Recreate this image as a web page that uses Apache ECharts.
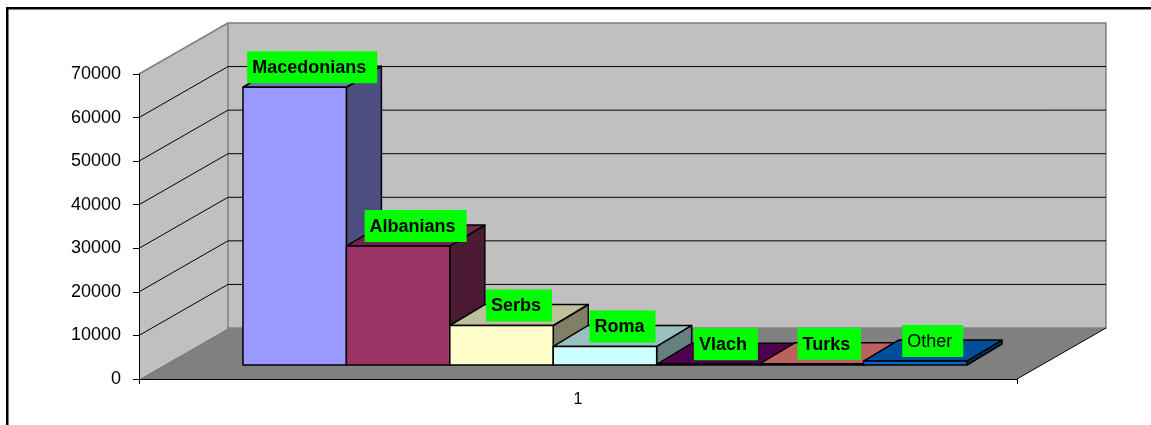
<!DOCTYPE html>
<html><head><meta charset="utf-8">
<script src="https://cdn.jsdelivr.net/npm/echarts@6/dist/echarts.min.js"></script>
<style>html,body{margin:0;padding:0;background:#fff}#c{width:1151px;height:425px}</style>
</head><body><div id="c"></div>
<script>
// ---- data ----
const categories = ['1'];
const groups = ['Macedonians', 'Albanians', 'Serbs', 'Roma', 'Vlach', 'Turks', 'Other'];
const values = [63746, 27290, 9062, 4256, 147, 292, 900];
const yTickLabels = ['0', '10000', '20000', '30000', '40000', '50000', '60000', '70000'];

// ---- styles ----
const colors = ['#9999FF', '#993366', '#FFFFCC', '#CCFFFF', '#660066', '#FF8080', '#0066CC'];
const labelWeights = ['bold', 'bold', 'bold', 'bold', 'bold', 'bold', 'normal'];
const FONT = 'Arial, "Liberation Sans", sans-serif';
const WALL_DX = 89, WALL_DY = -51;      // depth of the 3D box
const BAR_OX = 24.5, BAR_OY = -14;      // bar plane offset inside the box
const BAR_DX = 35, BAR_DY = -21;        // bar depth
const BAR_START = 0.0905, BAR_W = 0.1178; // fractions of the category band
const Y_MAX = 70000, Y_STEP = 10000;

function shade(hex, k) {
  const n = parseInt(hex.slice(1), 16);
  const r = Math.round(((n >> 16) & 255) * k), g = Math.round(((n >> 8) & 255) * k), b = Math.round((n & 255) * k);
  return 'rgb(' + r + ',' + g + ',' + b + ')';
}

function renderWalls(params, api) {
  const band = api.size([1, 0])[0];
  const c0 = api.coord([0, 0]);
  const xL = c0[0] - band / 2, xR = c0[0] + band / 2, yZ = c0[1];
  const yT = api.coord([0, Y_MAX])[1];
  const ch = [];
  ch.push({ type: 'polygon', shape: { points: [[xL, yZ], [xR, yZ], [xR + WALL_DX, yZ + WALL_DY], [xL + WALL_DX, yZ + WALL_DY]] }, style: { fill: '#808080' } });
  ch.push({ type: 'polygon', shape: { points: [[xL, yT], [xL + WALL_DX, yT + WALL_DY], [xL + WALL_DX, yZ + WALL_DY], [xL, yZ]] }, style: { fill: '#C0C0C0' } });
  ch.push({ type: 'rect', shape: { x: xL + WALL_DX, y: yT + WALL_DY, width: xR - xL, height: yZ - yT }, style: { fill: '#C0C0C0', stroke: '#808080', lineWidth: 1.5 } });
  for (let i = 0; i < yTickLabels.length; i++) {
    const v = Number(yTickLabels[i]);
    if (v <= 0 || v >= Y_MAX) continue;
    const y = api.coord([0, v])[1];
    ch.push({ type: 'polyline', shape: { points: [[xL, y], [xL + WALL_DX, y + WALL_DY], [xR + WALL_DX, y + WALL_DY]] }, style: { stroke: '#000', lineWidth: 1, fill: null } });
  }
  ch.push({ type: 'line', shape: { x1: xL, y1: yT, x2: xL + WALL_DX, y2: yT + WALL_DY }, style: { stroke: '#808080', lineWidth: 1.5 } });
  ch.push({ type: 'line', shape: { x1: xR, y1: yZ, x2: xR + WALL_DX, y2: yZ + WALL_DY }, style: { stroke: '#000', lineWidth: 1 } });
  return { type: 'group', children: ch };
}

function renderBar(params, api) {
  const i = params.seriesIndex - 1;
  const v = api.value(1);
  const band = api.size([1, 0])[0];
  const c0 = api.coord([0, 0]);
  const cv = api.coord([0, v]);
  const w = band * BAR_W;
  const xl = c0[0] - band / 2 + band * BAR_START + i * w + BAR_OX;
  const xr = xl + w;
  const yb = c0[1] + BAR_OY;
  const yt = cv[1] + BAR_OY;
  const col = colors[i];
  const st = { stroke: '#000', lineWidth: 1.5, lineJoin: 'round' };
  return {
    type: 'group',
    children: [
      { type: 'polygon', shape: { points: [[xr, yt], [xr + BAR_DX, yt + BAR_DY], [xr + BAR_DX, yb + BAR_DY], [xr, yb]] }, style: Object.assign({ fill: shade(col, 0.5) }, st) },
      { type: 'polygon', shape: { points: [[xl, yt], [xl + BAR_DX, yt + BAR_DY], [xr + BAR_DX, yt + BAR_DY], [xr, yt]] }, style: Object.assign({ fill: shade(col, 0.75) }, st) },
      { type: 'rect', shape: { x: xl, y: yt, width: w, height: Math.max(yb - yt, 0.01) }, style: Object.assign({ fill: col }, st) },
      {
        type: 'text', z2: 100, x: (xl + xr) / 2 + BAR_DX / 2, y: yt - 4,
        style: {
          text: groups[i], align: 'center', verticalAlign: 'bottom',
          font: labelWeights[i] + ' 18px ' + FONT, fill: '#000',
          backgroundColor: '#00FF00', padding: [8, 11, 6, 5]
        }
      }
    ]
  };
}

const series = [{
  type: 'custom', renderItem: renderWalls, data: [[0, 0]], encode: { x: 0, y: 1 }, silent: true, clip: false
}];
groups.forEach((g, i) => {
  series.push({ type: 'custom', name: g, renderItem: renderBar, data: [[0, values[i]]], encode: { x: 0, y: 1 }, silent: true, clip: false });
});

const chart = echarts.init(document.getElementById('c'), null, { renderer: 'canvas' });
chart.setOption({
  animation: false,
  backgroundColor: '#fff',
  grid: { left: 139, right: 134, top: 74, bottom: 46 },
  xAxis: {
    type: 'category', data: categories, z: 10,
    axisLine: { show: true, lineStyle: { color: '#000', width: 1 } },
    axisTick: { show: true, length: 5, lineStyle: { color: '#000' } },
    axisLabel: { fontSize: 16, color: '#000', fontFamily: FONT, margin: 13 },
    splitLine: { show: false }
  },
  yAxis: {
    type: 'value', min: 0, max: Y_MAX, interval: Y_STEP, z: 10,
    axisLine: { show: true, lineStyle: { color: '#000', width: 1 } },
    axisTick: { show: true, length: 6, lineStyle: { color: '#000' } },
    axisLabel: { fontSize: 18, color: '#000', fontFamily: FONT, margin: 18,
      formatter: (v) => yTickLabels[Math.round(v / Y_STEP)] },
    splitLine: { show: false }
  },
  graphic: [{
    type: 'rect', silent: true, z: 100,
    shape: { x: 7.25, y: 8.25, width: 1400, height: 600 },
    style: { fill: 'none', stroke: '#000', lineWidth: 2.5 }
  }],
  series: series
});
</script>
</body></html>
